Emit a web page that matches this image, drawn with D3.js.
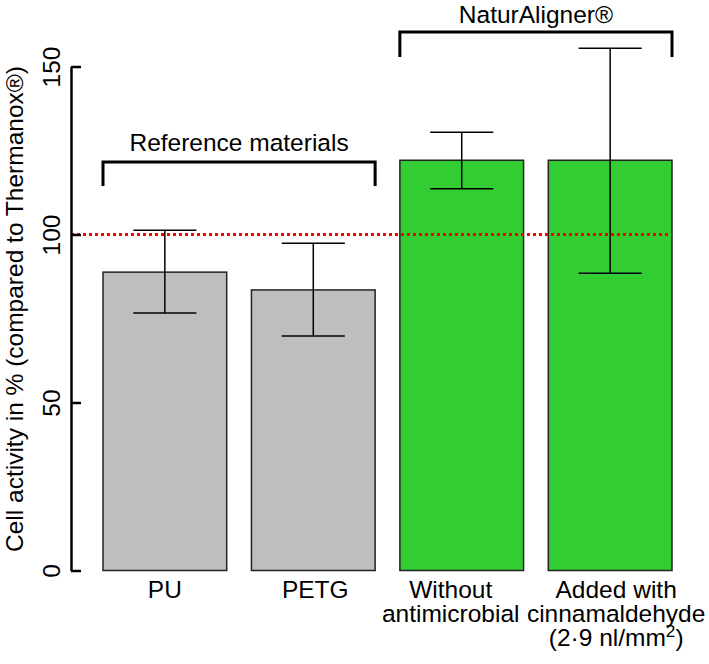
<!DOCTYPE html>
<html>
<head>
<meta charset="utf-8">
<script src="https://cdn.jsdelivr.net/npm/d3@7"></script>
<style>
  html, body { margin: 0; padding: 0; background: #fff; }
  svg text { font-family: "Liberation Sans", Arial, Helvetica, sans-serif; fill: #000; }
</style>
</head>
<body>
<svg id="chart" width="709" height="664"></svg>
<script>
// ---- data ----
const categories = ["PU", "PETG", "Without antimicrobial", "Added with cinnamaldehyde (2·9 nl/mm²)"];
const labelLines = [["PU"], ["PETG"], ["Without", "antimicrobial"], ["Added with", "cinnamaldehyde", "(2·9 nl/mm²)"]];
const means = [88.8, 83.5, 122.1, 122.1];
const errUpper = [101.3, 97.4, 130.4, 155.4];
const errLower = [76.6, 69.8, 113.6, 88.5];
const groupNames = ["Reference materials", "NaturAligner®"];
const groupMembers = [[0, 1], [2, 3]];
const yTicks = [0, 50, 100, 150];
const referenceLevel = 100;
const yLabel = "Cell activity in % (compared to Thermanox®)";

// ---- styling / layout ----
const barColors = ["#bebebe", "#bebebe", "#32cd32", "#32cd32"];
const FS = 24.5;
const svg = d3.select("#chart");

const barWidth = 1, barSpace = 0.2;
const barLeft = categories.map((d, i) => barSpace + i * (barWidth + barSpace));
const x = d3.scaleLinear().domain([0.2, 4.8]).range([103, 672]);
const y = d3.scaleLinear().domain([0, 150]).range([570.5, 66.5]);
const axisX = 71;

// bars
svg.append("g").selectAll("rect").data(means).join("rect")
  .attr("x", (d, i) => x(barLeft[i]))
  .attr("y", d => y(d))
  .attr("width", (d, i) => x(barLeft[i] + barWidth) - x(barLeft[i]))
  .attr("height", d => y(0) - y(d))
  .attr("fill", (d, i) => barColors[i])
  .attr("stroke", "#222")
  .attr("stroke-width", 1.5);

// reference line
svg.append("line")
  .attr("x1", axisX).attr("x2", x(4.8))
  .attr("y1", y(referenceLevel)).attr("y2", y(referenceLevel))
  .attr("stroke", "#ff0000").attr("stroke-width", 3)
  .attr("stroke-dasharray", "3,3");

// error bars
const eb = svg.append("g").attr("stroke", "#000").attr("stroke-width", 1.5);
means.forEach((m, i) => {
  const cx = x(barLeft[i] + barWidth / 2);
  const hw = x(0.2 + 0.255) - x(0.2);
  eb.append("line").attr("x1", cx).attr("x2", cx).attr("y1", y(errUpper[i])).attr("y2", y(errLower[i]));
  eb.append("line").attr("x1", cx - hw).attr("x2", cx + hw).attr("y1", y(errUpper[i])).attr("y2", y(errUpper[i]));
  eb.append("line").attr("x1", cx - hw).attr("x2", cx + hw).attr("y1", y(errLower[i])).attr("y2", y(errLower[i]));
});

// y axis
const yAxis = d3.axisLeft(y).tickValues(yTicks).tickSize(-10).tickSizeOuter(0).tickPadding(0);
const ga = svg.append("g").attr("transform", `translate(${axisX},0)`).call(yAxis);
ga.select(".domain").attr("stroke", "#000").attr("stroke-width", 2.5);
ga.selectAll(".tick line").attr("stroke", "#000").attr("stroke-width", 2.5);
ga.selectAll(".tick text")
  .attr("x", null).attr("dy", null)
  .attr("transform", "translate(-11,0) rotate(-90)")
  .attr("text-anchor", "middle")
  .attr("font-size", FS)
  .attr("font-family", "'Liberation Sans', Arial, Helvetica, sans-serif");

// y label
svg.append("text")
  .attr("transform", "translate(23,309) rotate(-90)")
  .attr("text-anchor", "middle")
  .attr("font-size", FS)
  .text(yLabel);

// x labels
const labelShift = [0, 2, -11, 6];
labelLines.forEach((lines, i) => {
  const cx = x(barLeft[i] + barWidth / 2) + labelShift[i];
  const t = svg.append("text").attr("text-anchor", "middle").attr("font-size", FS);
  lines.forEach((ln, j) => {
    const ts = t.append("tspan").attr("x", cx).attr("y", 598 + j * 24);
    if (ln.includes("²")) {
      const parts = ln.split("²");
      ts.append("tspan").text(parts[0]);
      ts.append("tspan").attr("dy", -9).attr("font-size", FS * 0.7).text("2");
      ts.append("tspan").attr("dy", 9).text(parts[1]);
    } else {
      ts.text(ln);
    }
  });
});

// group brackets
const bracketLevels = [[121.6, 114.4, 124.8], [160.3, 152.8, 163.0]];
groupNames.forEach((name, g) => {
  const [a, b] = groupMembers[g];
  const x1 = x(barLeft[a]), x2 = x(barLeft[b] + barWidth);
  const [top, arm, txt] = bracketLevels[g];
  svg.append("path")
    .attr("d", `M${x1},${y(arm)}V${y(top)}H${x2}V${y(arm)}`)
    .attr("fill", "none").attr("stroke", "#000").attr("stroke-width", 3);
  svg.append("text")
    .attr("x", (x1 + x2) / 2).attr("y", y(txt))
    .attr("text-anchor", "middle").attr("font-size", FS)
    .text(name);
});
</script>
</body>
</html>
